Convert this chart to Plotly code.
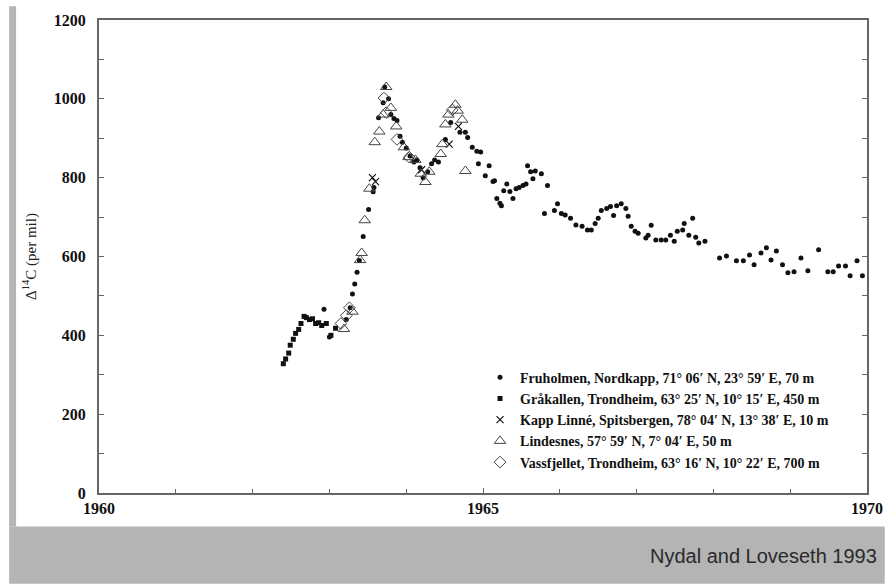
import plotly.graph_objects as go

# ---- Δ14C measurements in per mil, by station ----
fruholmen_year = [
    1962.93, 1963.00, 1963.22, 1963.27, 1963.30, 1963.33, 1963.36, 1963.39, 1963.44,
    1963.51, 1963.57, 1963.58, 1963.64, 1963.70, 1963.72, 1963.77, 1963.80, 1963.84,
    1963.88, 1963.92, 1963.95, 1964.00, 1964.05, 1964.10, 1964.14, 1964.18, 1964.22,
    1964.28, 1964.33, 1964.37, 1964.42, 1964.51, 1964.58, 1964.70, 1964.77, 1964.80,
    1964.86, 1964.92, 1964.97, 1964.94, 1965.03, 1965.08, 1965.13, 1965.15, 1965.18,
    1965.22, 1965.24, 1965.27, 1965.31, 1965.35, 1965.39, 1965.43, 1965.47, 1965.52,
    1965.56, 1965.58, 1965.62, 1965.65, 1965.68, 1965.76, 1965.80, 1965.84, 1965.93,
    1965.97, 1966.02, 1966.07, 1966.14, 1966.21, 1966.29, 1966.36, 1966.41, 1966.46,
    1966.50, 1966.54, 1966.61, 1966.66, 1966.70, 1966.74, 1966.80, 1966.86, 1966.89,
    1966.93, 1966.98, 1967.02, 1967.12, 1967.15, 1967.19, 1967.25, 1967.32, 1967.38,
    1967.44, 1967.49, 1967.53, 1967.60, 1967.62, 1967.68, 1967.73, 1967.77, 1967.81,
    1967.89, 1968.08, 1968.17, 1968.30, 1968.39, 1968.47, 1968.53, 1968.62, 1968.69,
    1968.75, 1968.82, 1968.90, 1968.97, 1969.05, 1969.14, 1969.23, 1969.37, 1969.49,
    1969.56, 1969.63, 1969.72, 1969.78, 1969.87, 1969.94,
]
fruholmen_d14c = [
    466, 396, 440, 470, 505, 530, 560, 590, 651,
    719, 764, 775, 952, 990, 1030, 1000, 960, 950,
    945, 905, 890, 875, 855, 840, 845, 825, 800,
    815, 835, 845, 840, 897, 940, 915, 915, 902,
    877, 867, 865, 835, 805, 830, 790, 792, 747,
    735, 729, 767, 784, 765, 747, 772, 775, 780,
    784, 830, 815, 797, 817, 810, 709, 780, 717,
    734, 709, 705, 697, 680, 677, 667, 667, 684,
    697, 717, 722, 727, 704, 729, 734, 722, 702,
    677, 664, 659, 647, 654, 679, 642, 642, 642,
    654, 639, 664, 667, 684, 654, 697, 649, 634,
    639, 596, 601, 589, 589, 604, 579, 609, 622,
    591, 614, 579, 559, 561, 596, 564, 617, 561,
    561, 576, 576, 551, 589, 551,
]

grakallen_year = [
    1962.40, 1962.43, 1962.47, 1962.49, 1962.53, 1962.56, 1962.60, 1962.63, 1962.67,
    1962.70, 1962.74, 1962.78, 1962.82, 1962.86, 1962.90, 1962.96, 1963.02, 1963.08,
]
grakallen_d14c = [
    328, 340, 355, 375, 390, 405, 415, 430, 448,
    445, 440, 442, 430, 432, 425, 430, 400, 418,
]

kapp_linne_year = [1963.56, 1963.60, 1964.20, 1964.56, 1964.68]
kapp_linne_d14c = [800, 790, 820, 885, 930]

lindesnes_year = [
    1963.19, 1963.30, 1963.40, 1963.42, 1963.46, 1963.52, 1963.59, 1963.65, 1963.70,
    1963.74, 1963.80, 1963.87, 1963.97, 1964.03, 1964.12, 1964.19, 1964.25, 1964.30,
    1964.45, 1964.47, 1964.51, 1964.55, 1964.64, 1964.67, 1964.73, 1964.77,
]
lindesnes_d14c = [
    416, 460, 591, 609, 692, 772, 890, 917, 960,
    1030, 977, 930, 877, 852, 845, 810, 789, 815,
    860, 885, 935, 960, 985, 970, 947, 817,
]

vassfjellet_year = [1963.15, 1963.22, 1963.26, 1963.71, 1963.74, 1963.88, 1964.04, 1964.60]
vassfjellet_d14c = [430, 450, 470, 1002, 965, 897, 852, 972]

# ---- axis ticks ----
x_tick_vals = [1960, 1965, 1970]
y_tick_vals = [0, 200, 400, 600, 800, 1000, 1200]

station_names = [
    "Fruholmen, Nordkapp, 71° 06′ N, 23° 59′ E, 70 m",
    "Gråkallen, Trondheim, 63° 25′ N, 10° 15′ E, 450 m",
    "Kapp Linné, Spitsbergen, 78° 04′ N, 13° 38′ E, 10 m",
    "Lindesnes, 57° 59′ N, 7° 04′ E, 50 m",
    "Vassfjellet, Trondheim, 63° 16′ N, 10° 22′ E, 700 m",
]
source_note = "Nydal and Loveseth 1993"

SERIF = "Liberation Serif"
INK = "#111111"

fig = go.Figure()

fig.add_trace(go.Scatter(
    x=fruholmen_year, y=fruholmen_d14c, mode="markers", name=station_names[0],
    marker=dict(symbol="circle", size=5, color=INK, line=dict(width=0)),
))
fig.add_trace(go.Scatter(
    x=grakallen_year, y=grakallen_d14c, mode="markers", name=station_names[1],
    marker=dict(symbol="square", size=5, color=INK, line=dict(width=0)),
))
fig.add_trace(go.Scatter(
    x=kapp_linne_year, y=kapp_linne_d14c, mode="markers", name=station_names[2],
    marker=dict(symbol="x-thin-open", size=7, color=INK, line=dict(width=1.2, color=INK)),
))
fig.add_trace(go.Scatter(
    x=lindesnes_year, y=lindesnes_d14c, mode="markers", name=station_names[3],
    marker=dict(symbol="triangle-up-open", size=10, color="#444444", line=dict(width=1, color="#444444")),
))
fig.add_trace(go.Scatter(
    x=vassfjellet_year, y=vassfjellet_d14c, mode="markers", name=station_names[4],
    marker=dict(symbol="diamond-open", size=9, color="#444444", line=dict(width=1, color="#444444")),
))

# plot area spans x 99..877 px and y 14..493 px of the page
L, R, T, B = 99, 877, 14, 493
W, H = 895, 585


def px_x(p):
    return (p - L) / (R - L)


def px_y(p):
    return (B - p) / (B - T)


fig.update_layout(
    width=W, height=H,
    margin=dict(l=L, r=W - R, t=T, b=H - B, pad=0),
    paper_bgcolor="white", plot_bgcolor="white",
    showlegend=True,
    legend=dict(
        x=px_x(485), y=px_y(360), xanchor="left", yanchor="top",
        bgcolor="rgba(0,0,0,0)", borderwidth=0,
        font=dict(family=SERIF, size=14, color=INK, weight="bold"),
        tracegroupgap=0,
    ),
    xaxis=dict(
        range=[1960, 1970], tickvals=x_tick_vals, ticktext=[str(v) for v in x_tick_vals],
        ticks="inside", ticklen=5, tickwidth=1, tickcolor="#666666",
        minor=dict(dtick=1, ticks="inside", ticklen=4, tickcolor="#666666"),
        showline=True, linecolor="#666666", linewidth=2, mirror=True,
        showgrid=False, zeroline=False, ticklabelstandoff=0,
        tickfont=dict(family=SERIF, size=16, color=INK, weight="bold"),
    ),
    yaxis=dict(
        range=[0, 1200], tickvals=y_tick_vals, ticktext=[str(v) for v in y_tick_vals],
        ticks="inside", ticklen=5, tickwidth=1, tickcolor="#666666",
        minor=dict(dtick=100, ticks="inside", ticklen=5, tickcolor="#666666"),
        showline=True, linecolor="#666666", linewidth=2, mirror="ticks",
        showgrid=False, zeroline=False, ticklabelstandoff=8,
        tickfont=dict(family=SERIF, size=16, color=INK, weight="bold"),
        title=dict(text="Δ<sup>14</sup>C (per mil)", standoff=14,
                   font=dict(family=SERIF, size=15, color="#222222")),
    ),
    shapes=[
        # grey frame: left strip and bottom band
        dict(type="rect", xref="paper", yref="paper", layer="below",
             x0=px_x(8), x1=px_x(15), y0=px_y(527), y1=px_y(0),
             fillcolor="#b4b4b4", line=dict(width=0)),
        dict(type="rect", xref="paper", yref="paper", layer="below",
             x0=px_x(8), x1=px_x(895), y0=px_y(585), y1=px_y(527),
             fillcolor="#b4b4b4", line=dict(width=0)),
    ],
    annotations=[
        dict(text=source_note, xref="paper", yref="paper",
             x=px_x(889), y=px_y(557), xanchor="right", yanchor="middle",
             showarrow=False, font=dict(family="Liberation Sans", size=20, color="#2a2a2a")),
    ],
)

fig.write_html("out.html")
